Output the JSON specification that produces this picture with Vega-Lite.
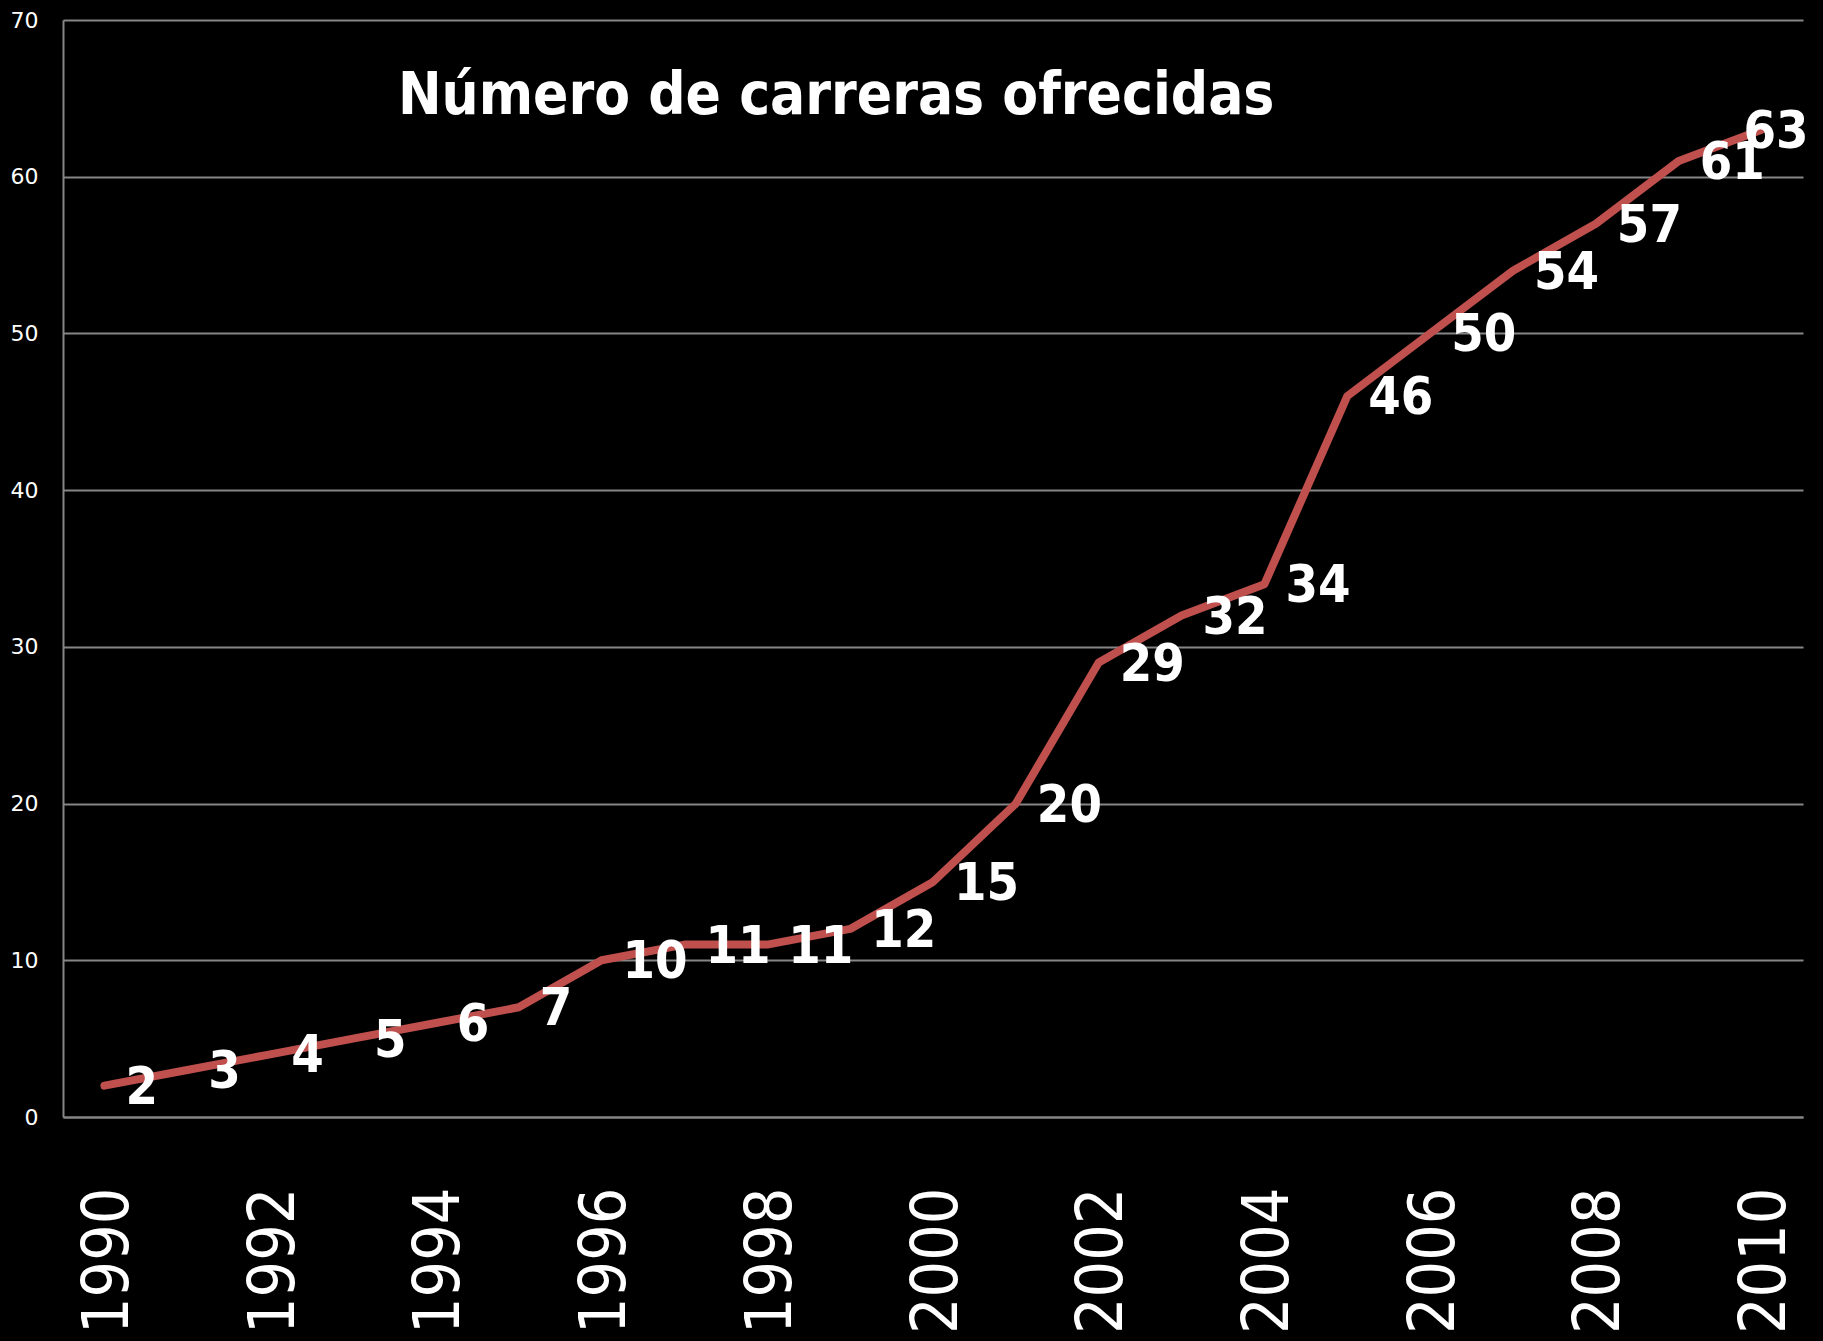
{
  "$schema": "https://vega.github.io/schema/vega-lite/v6.json",
  "width": 1740,
  "height": 1097,
  "autosize": {"type": "none"},
  "padding": {"left": 63, "top": 20, "right": 20, "bottom": 224},
  "background": "#000000",
  "config": {"view": {"stroke": null}},
  "datasets": {
    "serie": [
      {"year": 1990, "carreras": 2},
      {"year": 1991, "carreras": 3},
      {"year": 1992, "carreras": 4},
      {"year": 1993, "carreras": 5},
      {"year": 1994, "carreras": 6},
      {"year": 1995, "carreras": 7},
      {"year": 1996, "carreras": 10},
      {"year": 1997, "carreras": 11},
      {"year": 1998, "carreras": 11},
      {"year": 1999, "carreras": 12},
      {"year": 2000, "carreras": 15},
      {"year": 2001, "carreras": 20},
      {"year": 2002, "carreras": 29},
      {"year": 2003, "carreras": 32},
      {"year": 2004, "carreras": 34},
      {"year": 2005, "carreras": 46},
      {"year": 2006, "carreras": 50},
      {"year": 2007, "carreras": 54},
      {"year": 2008, "carreras": 57},
      {"year": 2009, "carreras": 61},
      {"year": 2010, "carreras": 63}
    ],
    "titulo": [{"year": 1999, "carreras": 64, "label": "Número de carreras ofrecidas"}]
  },
  "encoding": {
    "x": {
      "field": "year",
      "type": "ordinal",
      "scale": {"type": "point", "padding": 0.5},
      "axis": {
        "title": null,
        "values": [1990, 1992, 1994, 1996, 1998, 2000, 2002, 2004, 2006, 2008, 2010],
        "labelAngle": -90,
        "labelAlign": "right",
        "labelBaseline": "middle",
        "labelFont": "DejaVu Sans Condensed",
        "labelFontSize": 64,
        "labelColor": "#ffffff",
        "labelPadding": 70,
        "labelOffset": 4,
        "ticks": false,
        "domain": true,
        "domainColor": "#868686",
        "domainWidth": 2,
        "grid": false
      }
    },
    "y": {
      "field": "carreras",
      "type": "quantitative",
      "scale": {"domain": [0, 70], "nice": false},
      "axis": {
        "title": null,
        "values": [0, 10, 20, 30, 40, 50, 60, 70],
        "labelFont": "DejaVu Sans",
        "labelFontSize": 22,
        "labelColor": "#ffffff",
        "labelPadding": 25,
        "ticks": false,
        "domain": true,
        "domainColor": "#868686",
        "domainWidth": 2,
        "grid": true,
        "gridColor": "#868686",
        "gridWidth": 2
      }
    }
  },
  "layer": [
    {
      "data": {"name": "serie"},
      "mark": {"type": "line", "color": "#C0504D", "strokeWidth": 8, "strokeCap": "round", "strokeJoin": "round"}
    },
    {
      "data": {"name": "serie"},
      "transform": [{"filter": "datum.year != 2010"}],
      "mark": {"type": "text", "align": "left", "baseline": "middle", "dx": 21, "dy": 2, "font": "DejaVu Sans Condensed", "fontWeight": "bold", "fontSize": 52, "color": "#ffffff"},
      "encoding": {"text": {"field": "carreras", "type": "quantitative"}}
    },
    {
      "data": {"name": "serie"},
      "transform": [{"filter": "datum.year == 2010"}],
      "mark": {"type": "text", "align": "left", "baseline": "middle", "dx": -18, "dy": 2, "font": "DejaVu Sans Condensed", "fontWeight": "bold", "fontSize": 52, "color": "#ffffff"},
      "encoding": {"text": {"field": "carreras", "type": "quantitative"}}
    },
    {
      "data": {"name": "titulo"},
      "mark": {"type": "text", "align": "center", "baseline": "alphabetic", "dx": -14, "font": "DejaVu Sans Condensed", "fontWeight": "bold", "fontSize": 58, "color": "#ffffff"},
      "encoding": {
        "text": {"field": "label", "type": "nominal"}
      }
    }
  ]
}
